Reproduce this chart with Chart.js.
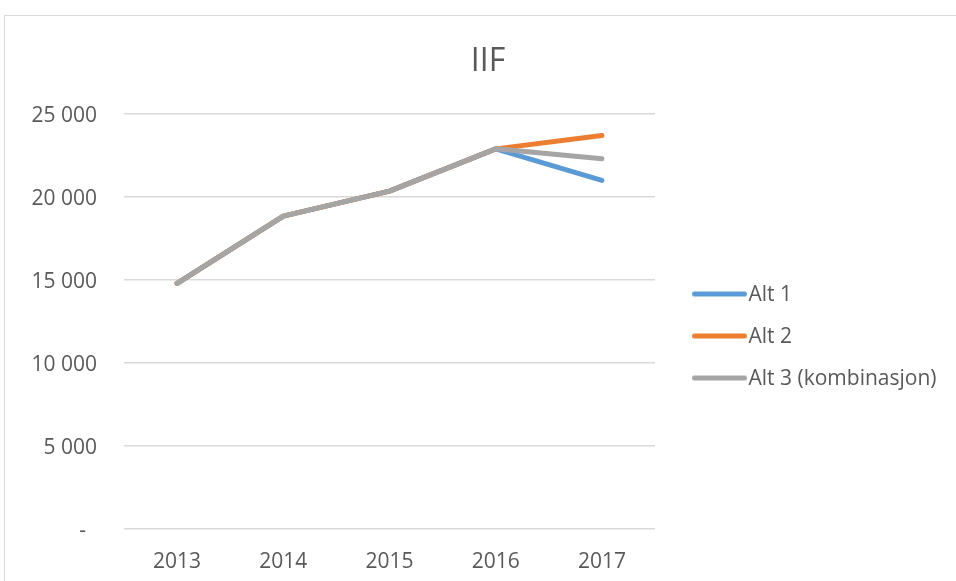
<!DOCTYPE html>
<html>
<head>
<meta charset="utf-8">
<script src="https://cdn.jsdelivr.net/npm/chart.js@4/dist/chart.umd.min.js"></script>
<style>
  html, body { margin: 0; padding: 0; background: #ffffff; overflow: hidden; }
  #frame { position: absolute; left: 4px; top: 15px; width: 1000px; height: 700px; border: 1px solid #d9d9d9; box-sizing: border-box; }
  #wrap { position: absolute; left: 0; top: 0; width: 956px; height: 581px; }
</style>
</head>
<body>
<div id="frame"></div>
<div id="wrap"><canvas id="c" width="956" height="581"></canvas></div>
<script>
const years = ['2013', '2014', '2015', '2016', '2017'];
const alt1 = [14800, 18850, 20350, 22900, 21000];
const alt2 = [14800, 18850, 20350, 22900, 23700];
const alt3 = [14800, 18850, 20350, 22900, 22300];
const seriesNames = ['Alt 1', 'Alt 2', 'Alt 3 (kombinasjon)'];
const yTicks = [0, 5000, 10000, 15000, 20000, 25000];

const FONT = '"Open Sans"';
const TXT = '#595959';
const colors = ['#5B9BD5', '#ED7D31', '#A5A5A5'];
const FS = 21;

const BOX = 62;
function legendLine(color) {
  const W = BOX + 20, H = 14;
  const c = document.createElement('canvas');
  c.width = W; c.height = H;
  const g = c.getContext('2d');
  g.strokeStyle = color; g.lineWidth = 5; g.lineCap = 'round';
  g.beginPath(); g.moveTo(W - 56 + 2.5, H / 2 - 1.5); g.lineTo(W - 1 - 2.5, H / 2 - 1.5); g.stroke();
  return c;
}

function pads() {
  const m = document.createElement('canvas').getContext('2d');
  m.font = FS + 'px ' + FONT;
  const tw = Math.max(...seriesNames.map(s => m.measureText(s).width));
  const legendW = 21 + BOX + FS / 2 + tw + 10;
  const right = Math.max(0, 956 - 655 - legendW);
  const left = Math.max(4, 976 - 956 + right);
  return { left, right, top: 20, bottom: 0 };
}

function fmt(v) {
  if (v === 0) return '-\u00a0\u00a0';
  return String(v).replace(/\B(?=(\d{3})+(?!\d))/g, ' ');
}

const legendShift = {
  id: 'legendShift',
  afterLayout(chart) { chart.legend.top += 16; chart.legend.bottom += 16; }
};

const series = [alt1, alt2, alt3];
const chart = new Chart(document.getElementById('c'), {
  type: 'line',
  data: {
    labels: years,
    datasets: series.map((d, i) => ({
      label: seriesNames[i],
      data: d,
      borderColor: colors[i],
      backgroundColor: colors[i],
      borderWidth: 5,
      borderCapStyle: 'round',
      borderJoinStyle: 'round',
      tension: 0,
      pointRadius: 0,
      pointHoverRadius: 0,
      pointStyle: legendLine(colors[i]),
      order: [3, 2, 1][i],
      fill: false
    }))
  },
  options: {
    responsive: false,
    animation: false,
    layout: { padding: pads() },
    plugins: {
      title: {
        display: true, text: 'IIF', color: TXT,
        font: { family: FONT, size: 32, weight: 'normal' },
        padding: { top: 22.5, bottom: 33.1 }
      },
      legend: {
        position: 'right', fullSize: false, maxWidth: 400,
        labels: {
          usePointStyle: true, pointStyleWidth: BOX, padding: 21,
          color: TXT, font: { family: FONT, size: FS },
          sort: (a, b) => a.datasetIndex - b.datasetIndex
        }
      },
      tooltip: { enabled: false }
    },
    scales: {
      x: {
        offset: true,
        grid: { display: false, drawTicks: false },
        border: { display: false },
        ticks: { color: TXT, font: { family: FONT, size: FS }, padding: 20.5, maxRotation: 0 },
        afterFit: s => { s.height = 52; }
      },
      y: {
        min: 0, max: 25000,
        afterBuildTicks: s => { s.ticks = yTicks.map(v => ({ value: v })); },
        grid: { color: '#d9d9d9', lineWidth: 1.5, drawTicks: false },
        border: { display: false },
        ticks: { color: TXT, font: { family: FONT, size: FS }, padding: 27, labelOffset: 2, callback: v => fmt(v) },
        afterFit: s => { s.width = 124 - s.chart.options.layout.padding.left; }
      }
    }
  },
  plugins: [legendShift]
});

if (document.fonts && document.fonts.load) {
  document.fonts.load(FS + 'px ' + FONT).then(() => {
    chart.options.layout.padding = pads();
    chart.update();
  }).catch(() => {});
}
</script>
</body>
</html>
